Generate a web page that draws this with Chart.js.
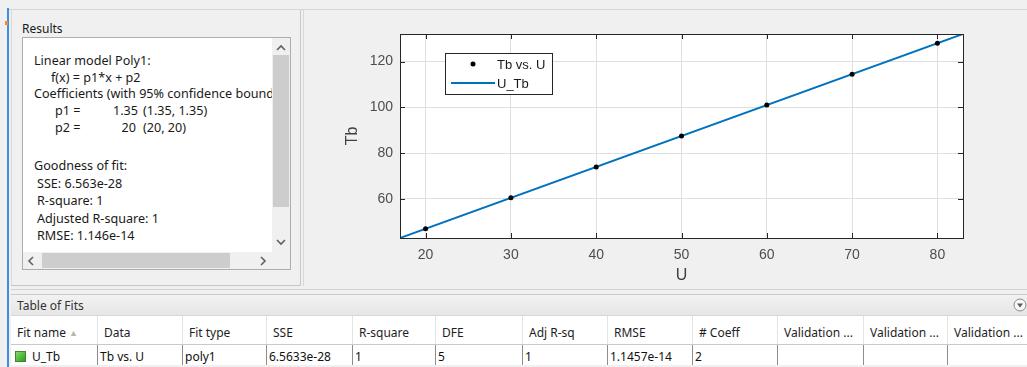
<!DOCTYPE html>
<html>
<head>
<meta charset="utf-8">
<script src="https://cdn.jsdelivr.net/npm/chart.js@4/dist/chart.umd.min.js"></script>
<style>
  html, body { margin: 0; padding: 0; }
  body { width: 1027px; height: 367px; background: #f0f0f0; position: relative; overflow: hidden;
         font-family: "Noto Sans", "Open Sans", sans-serif; color: #1a1a1a; }
  .abs { position: absolute; }
  .hline { position: absolute; height: 1px; background: #cfcfcf; }
  .vline { position: absolute; width: 1px; background: #cfcfcf; }
  #results-label { left: 22px; top: 20px; font-size: 12px; }
  #results-box { left: 22px; top: 37px; width: 269px; height: 233px; background: #fff;
                 border: 1px solid #adadad; box-sizing: border-box; overflow: hidden; }
  #results-text { position: absolute; left: 0; top: 0; width: 249px; height: 216px; overflow: hidden;
                  font-size: 12.6px; }
  #results-text div { position: absolute; white-space: nowrap; line-height: 18px; height: 18px; }
  #results-text .num { text-align: right; width: 40px; }
  #vscroll { position: absolute; right: 0; top: 0; width: 18px; height: 216px; background: #f0f0f0; }
  #vthumb { position: absolute; left: 1px; top: 17px; width: 16px; height: 152px; background: #cdcdcd; }
  #hscroll { position: absolute; left: 0; bottom: 0; width: 249px; height: 17px; background: #f0f0f0; }
  #hthumb { position: absolute; left: 19px; top: 1px; width: 188px; height: 15px; background: #cdcdcd; }
  #corner { position: absolute; right: 0; bottom: 0; width: 18px; height: 17px; background: #f0f0f0; }
  #chart-wrap { position: absolute; left: 304px; top: 10px; width: 723px; height: 280px; }
  #fits-band { left: 11px; top: 294px; width: 1016px; height: 22px; box-sizing: border-box;
               border-top: 1px solid #cbcbcb; border-bottom: 1px solid #d6d6d6;
               background: linear-gradient(#f2f2f2, #e6e6e6); font-size: 12px; }
  #fits-band span { position: absolute; left: 6px; top: 2px; color: #333; }
  #fits-head { left: 11px; top: 316px; width: 1016px; height: 28px; background: #fff; }
  #fits-row { left: 11px; top: 344px; width: 1016px; height: 21px; background: #fff;
              border-top: 1px solid #c9c9c9; box-sizing: border-box; }
  .hcell { position: absolute; top: 0; height: 28px; line-height: 34px; font-size: 12px;
           border-left: 1px solid #e3e3e3; box-sizing: border-box; padding-left: 6px; white-space: nowrap;
           color: #1e1e1e; overflow: hidden; }
  .dcell { position: absolute; top: 0; height: 20px; line-height: 24px; font-size: 12px;
           border-left: 1px solid #8e8e8e; box-sizing: border-box; padding-left: 2px; white-space: nowrap;
           color: #111; overflow: hidden; }
</style>
</head>
<body>
<!-- window chrome -->
<div class="hline" style="left:9px;top:9px;width:1018px;background:#d4d4d4"></div>
<div class="abs" style="left:7px;top:8px;width:2px;height:359px;background:#3d8ee0"></div>
<div class="abs" style="left:5px;top:21px;width:3px;height:4px;background:#f08a3c"></div>
<div class="vline" style="left:11px;top:10px;height:276px;background:#dadada"></div>
<div class="vline" style="left:300px;top:10px;height:276px;background:#c8c8c8"></div>
<div class="vline" style="left:303px;top:10px;height:276px;background:#d8d8d8"></div>
<div class="hline" style="left:11px;top:285px;width:290px;background:#c6c6c6"></div>
<div class="hline" style="left:11px;top:289px;width:1016px;background:#d2d2d2"></div>

<!-- Results panel -->
<div id="results-label" class="abs">Results</div>
<div id="results-box" class="abs">
  <div id="results-text">
    <div style="left:11px;top:14px">Linear model Poly1:</div>
    <div style="left:28px;top:30.7px">f(x) = p1*x + p2</div>
    <div style="left:11px;top:47.3px">Coefficients (with 95% confidence bounds):</div>
    <div style="left:32px;top:64px">p1 =</div>
    <div class="num" style="left:75px;top:64px">1.35</div>
    <div style="left:120px;top:64px">(1.35, 1.35)</div>
    <div style="left:32px;top:80.7px">p2 =</div>
    <div class="num" style="left:73px;top:80.7px">20</div>
    <div style="left:120px;top:80.7px">(20, 20)</div>
    <div style="left:11px;top:119px">Goodness of fit:</div>
    <div style="left:14px;top:136.5px">SSE: 6.563e-28</div>
    <div style="left:14px;top:154px">R-square: 1</div>
    <div style="left:14px;top:171.5px">Adjusted R-square: 1</div>
    <div style="left:14px;top:189px">RMSE: 1.146e-14</div>
  </div>
  <div id="vscroll">
    <svg class="abs" style="left:4px;top:6px" width="10" height="7"><polyline points="1,6 5,2 9,6" fill="none" stroke="#606060" stroke-width="1.6"/></svg>
    <div id="vthumb"></div>
    <svg class="abs" style="left:4px;top:201px" width="10" height="7"><polyline points="1,1 5,5 9,1" fill="none" stroke="#606060" stroke-width="1.6"/></svg>
  </div>
  <div id="hscroll">
    <svg class="abs" style="left:4px;top:4px" width="7" height="10"><polyline points="6,1 2,5 6,9" fill="none" stroke="#606060" stroke-width="1.6"/></svg>
    <div id="hthumb"></div>
    <svg class="abs" style="left:237px;top:4px" width="7" height="10"><polyline points="1,1 5,5 1,9" fill="none" stroke="#606060" stroke-width="1.6"/></svg>
  </div>
  <div id="corner"></div>
</div>

<!-- Plot -->
<div id="chart-wrap"><canvas id="fitChart" width="723" height="280"></canvas></div>

<!-- Table of Fits -->
<div id="fits-band" class="abs"><span>Table of Fits</span>
  <svg class="abs" style="left:1002px;top:3px" width="14" height="14"><circle cx="7" cy="7" r="6" fill="#f7f7f7" stroke="#8a8a8a"/><polygon points="4,5.5 10,5.5 7,9.5" fill="#5a5a5a"/></svg>
</div>
<div id="fits-head" class="abs"></div>
<div id="fits-row" class="abs"></div>

<script>
// Measured points
const uValues = [20, 30, 40, 50, 60, 70, 80];
const tbValues = [47, 60.5, 74, 87.5, 101, 114.5, 128];

// Fitted line U_Tb (poly1: p1 = 1.35, p2 = 20) across the plotted U range
const fitU = [17, 83];
const fitTb = [42.95, 132.05];

// Axis limits and tick labels
const uLimits = [17, 83];
const tbLimits = [42.95, 132.05];
const uTicks = [20, 30, 40, 50, 60, 70, 80];
const tbTicks = [60, 80, 100, 120];

// Table of Fits
const fitColumns = ['Fit name', 'Data', 'Fit type', 'SSE', 'R-square', 'DFE', 'Adj R-sq', 'RMSE', '# Coeff',
                    'Validation ...', 'Validation ...', 'Validation ...'];
const fitRow = ['U_Tb', 'Tb vs. U', 'poly1', '6.5633e-28', '1', '5', '1', '1.1457e-14', '2', '', '', ''];
const columnEdges = [0, 86, 171, 255, 341, 424, 511, 596, 681, 766, 852, 936, 1016];

const head = document.getElementById('fits-head');
const row = document.getElementById('fits-row');
fitColumns.forEach((name, i) => {
  const h = document.createElement('div');
  h.className = 'hcell';
  h.style.left = columnEdges[i] + 'px';
  h.style.width = (columnEdges[i + 1] - columnEdges[i]) + 'px';
  if (i === 0) {
    h.style.borderLeft = 'none';
    h.innerHTML = name + ' <span style="color:#b5b5b5;font-size:9px;position:relative;top:-1px">&#9650;</span>';
  } else {
    h.textContent = name;
  }
  head.appendChild(h);

  const d = document.createElement('div');
  d.className = 'dcell';
  d.style.left = columnEdges[i] + 'px';
  d.style.width = (columnEdges[i + 1] - columnEdges[i]) + 'px';
  if (i === 0) {
    d.style.borderLeft = 'none';
    d.style.paddingLeft = '4px';
    d.innerHTML = '<span style="display:inline-block;width:11px;height:11px;vertical-align:-1px;margin-right:6px;' +
      'background:linear-gradient(135deg,#7fdc6a,#2f9a22);border:1px solid #3d8a2e;box-sizing:border-box"></span>' + fitRow[i];
  } else {
    d.textContent = fitRow[i];
  }
  row.appendChild(d);
});

// White plotting surface behind the grid
const axesFill = {
  id: 'axesFill',
  beforeDraw(chart) {
    const {ctx, chartArea: a} = chart;
    ctx.save();
    ctx.fillStyle = '#ffffff';
    ctx.fillRect(a.left, a.top, a.right - a.left, a.bottom - a.top);
    ctx.restore();
  }
};

// Axes box with inward tick marks on all four sides
const axesBox = {
  id: 'axesBox',
  afterDatasetsDraw(chart) {
    const {ctx, chartArea: a, scales} = chart;
    const len = 5;
    ctx.save();
    ctx.strokeStyle = '#262626';
    ctx.lineWidth = 1;
    ctx.beginPath();
    scales.x.ticks.forEach(t => {
      const x = Math.round(scales.x.getPixelForValue(t.value)) + 0.5;
      ctx.moveTo(x, a.bottom); ctx.lineTo(x, a.bottom - len);
      ctx.moveTo(x, a.top); ctx.lineTo(x, a.top + len);
    });
    scales.y.ticks.forEach(t => {
      const y = Math.round(scales.y.getPixelForValue(t.value)) + 0.5;
      ctx.moveTo(a.left, y); ctx.lineTo(a.left + len, y);
      ctx.moveTo(a.right, y); ctx.lineTo(a.right - len, y);
    });
    ctx.stroke();
    ctx.strokeRect(Math.round(a.left) + 0.5, Math.round(a.top) + 0.5,
                   Math.round(a.right - a.left), Math.round(a.bottom - a.top));
    ctx.restore();
  }
};

// Boxed legend inside the upper-left of the axes
const boxLegend = {
  id: 'boxLegend',
  afterDraw(chart) {
    const {ctx, chartArea: a} = chart;
    const ds = chart.data.datasets;
    const x0 = Math.round(a.left) + 45, y0 = Math.round(a.top) + 19;
    ctx.save();
    ctx.fillStyle = '#ffffff';
    ctx.fillRect(x0, y0, 107, 41);
    ctx.strokeStyle = '#262626';
    ctx.lineWidth = 1;
    ctx.strokeRect(x0 + 0.5, y0 + 0.5, 107, 41);
    // marker entry
    ctx.fillStyle = '#000';
    ctx.beginPath();
    ctx.arc(x0 + 28, y0 + 11, 2.5, 0, Math.PI * 2);
    ctx.fill();
    // line entry
    ctx.strokeStyle = ds[1].borderColor;
    ctx.lineWidth = 2;
    ctx.beginPath();
    ctx.moveTo(x0 + 6, y0 + 30);
    ctx.lineTo(x0 + 50, y0 + 30);
    ctx.stroke();
    ctx.fillStyle = '#1a1a1a';
    ctx.font = '13px "Liberation Sans", Arial, sans-serif';
    ctx.textBaseline = 'middle';
    ctx.fillText(ds[0].label, x0 + 52, y0 + 12);
    ctx.fillText(ds[1].label, x0 + 52, y0 + 31);
    ctx.restore();
  }
};

const tickFont = {family: '"Liberation Sans", Arial, sans-serif', size: 14};
const titleFont = {family: '"Liberation Sans", Arial, sans-serif', size: 16};

new Chart(document.getElementById('fitChart'), {
  type: 'scatter',
  data: {
    datasets: [
      {
        label: 'Tb vs. U',
        data: uValues.map((u, i) => ({x: u, y: tbValues[i]})),
        backgroundColor: '#000',
        borderColor: '#000',
        pointRadius: 2.5,
        pointBorderWidth: 0,
        showLine: false
      },
      {
        label: 'U_Tb',
        data: fitU.map((u, i) => ({x: u, y: fitTb[i]})),
        borderColor: '#0072BD',
        backgroundColor: '#0072BD',
        borderWidth: 2,
        pointRadius: 0,
        showLine: true
      }
    ]
  },
  options: {
    responsive: false,
    animation: false,
    devicePixelRatio: 1,
    layout: {padding: {top: 24, right: 64, bottom: 0, left: 0}},
    plugins: {legend: {display: false}, tooltip: {enabled: false}},
    scales: {
      x: {
        type: 'linear',
        min: uLimits[0],
        max: uLimits[1],
        afterBuildTicks: s => { s.ticks = uTicks.map(v => ({value: v})); },
        afterFit: s => { s.height = 52; },
        grid: {color: '#dfdfdf', drawTicks: false},
        border: {display: false},
        ticks: {font: tickFont, color: '#4d4d4d', padding: 9, maxRotation: 0},
        title: {display: true, text: 'U', font: titleFont, color: '#404040', padding: {top: 0, bottom: 5}}
      },
      y: {
        type: 'linear',
        min: tbLimits[0],
        max: tbLimits[1],
        afterBuildTicks: s => { s.ticks = tbTicks.map(v => ({value: v})); },
        afterFit: s => { s.width = 96; },
        grid: {color: '#dfdfdf', drawTicks: false},
        border: {display: false},
        ticks: {font: tickFont, color: '#4d4d4d', padding: 7},
        title: {display: true, text: 'Tb', font: titleFont, color: '#404040', padding: {top: 39, bottom: 0}}
      }
    }
  },
  plugins: [axesFill, axesBox, boxLegend]
});
</script>
</body>
</html>
